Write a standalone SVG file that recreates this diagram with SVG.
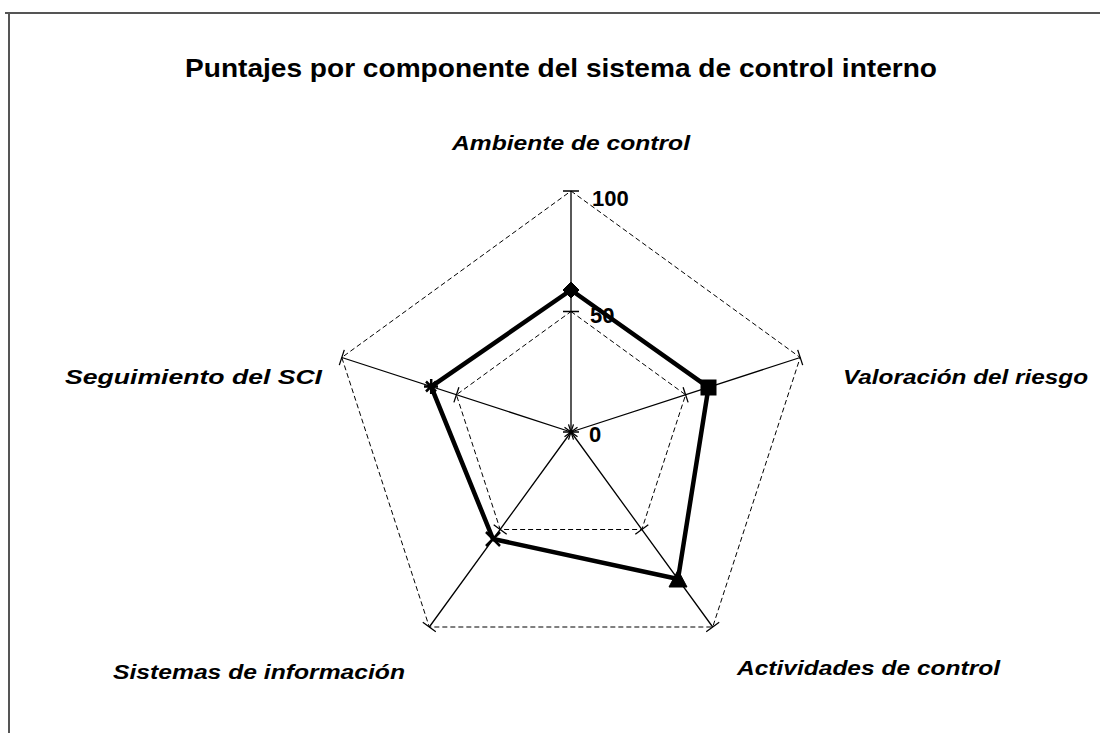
<svg xmlns="http://www.w3.org/2000/svg" width="1100" height="733" viewBox="0 0 1100 733">
<style>
.frame{stroke:#555;stroke-width:2;fill:none}
.title{font-family:"Liberation Sans",Arial,sans-serif;font-weight:bold;font-size:26px;fill:#000}
.lab{font-family:"Liberation Sans",Arial,sans-serif;font-weight:bold;font-style:italic;font-size:20px;fill:#000}
.val{font-family:"Liberation Sans",Arial,sans-serif;font-weight:bold;font-size:22px;fill:#000}
.grid{stroke:#000;stroke-width:1;fill:none;stroke-dasharray:5 3}
.spoke{stroke:#000;stroke-width:1.3;fill:none}
.tick{stroke:#000;stroke-width:1.3}
.data{stroke:#000;stroke-width:4.5;fill:none;stroke-linejoin:round}
.mk{fill:#000;stroke:#000}
.mkl{stroke:#000;stroke-width:2.5}
</style>
<rect width="1100" height="733" fill="#fff"/>
<g id="frame">
<path class="frame" d="M5,13 H1100 M9,13 V733"/>
</g>
<text class="title" x="185" y="77" textLength="752" lengthAdjust="spacingAndGlyphs">Puntajes por componente del sistema de control interno</text>
<g id="grid">
<polygon class="grid" points="571,191 800.2,357.5 712.7,627 429.3,627 341.8,357.5"/>
<polygon class="grid" points="571,311.5 685.6,394.8 641.8,529.5 500.2,529.5 456.4,394.8"/>
</g>
<g id="connectors">
<path class="spoke" d="M571,432 L571,191 M571,432 L800.2,357.5 M571,432 L712.7,627 M571,432 L429.3,627 M571,432 L341.8,357.5"/>
<path class="tick" d="M563,191 H579 M563,311.5 H579 M563,432 H579
M797.7,349.9 L802.7,365.1 M683.1,387.2 L688.1,402.4 M568.5,424.4 L573.5,439.6
M719.2,622.3 L706.2,631.7 M648.3,524.8 L635.3,534.2 M577.5,427.3 L564.5,436.7
M435.8,631.7 L422.8,622.3 M506.7,534.2 L493.7,524.8 M577.5,436.7 L564.5,427.3
M339.3,365.1 L344.3,349.9 M453.9,402.4 L458.9,387.2 M568.5,439.6 L573.5,424.4"/>
</g>
<g id="series">
<polygon class="data" points="571,290 708.5,387.3 678,579 493,539 431.2,386.6"/>
</g>
<g id="node-ambiente">
<polygon class="mk" points="571,282 579,290 571,298 563,290"/>
<text class="lab" x="452" y="150" textLength="238" lengthAdjust="spacingAndGlyphs">Ambiente de control</text>
</g>
<g id="node-valoracion">
<rect class="mk" x="701" y="380" width="15" height="15"/>
<text class="lab" x="843" y="384" textLength="245" lengthAdjust="spacingAndGlyphs">Valoración del riesgo</text>
</g>
<g id="node-actividades">
<polygon class="mk" points="678,570 687,587 669,587"/>
<text class="lab" x="737" y="675" textLength="263" lengthAdjust="spacingAndGlyphs">Actividades de control</text>
</g>
<g id="node-sistemas">
<path class="mkl" d="M486,532 L500,546 M500,532 L486,546"/>
<text class="lab" x="113" y="679" textLength="292" lengthAdjust="spacingAndGlyphs">Sistemas de información</text>
</g>
<g id="node-seguimiento">
<path class="mkl" d="M424,386.6 H438 M431.2,379 V394 M426,381.5 L436,391.5 M436,381.5 L426,391.5"/>
<text class="lab" x="65" y="384" textLength="257" lengthAdjust="spacingAndGlyphs">Seguimiento del SCI</text>
</g>
<g id="axis-values">
<text class="val" x="592" y="206">100</text>
<text class="val" x="590" y="323">50</text>
<text class="val" x="589" y="442">0</text>
</g>
</svg>
